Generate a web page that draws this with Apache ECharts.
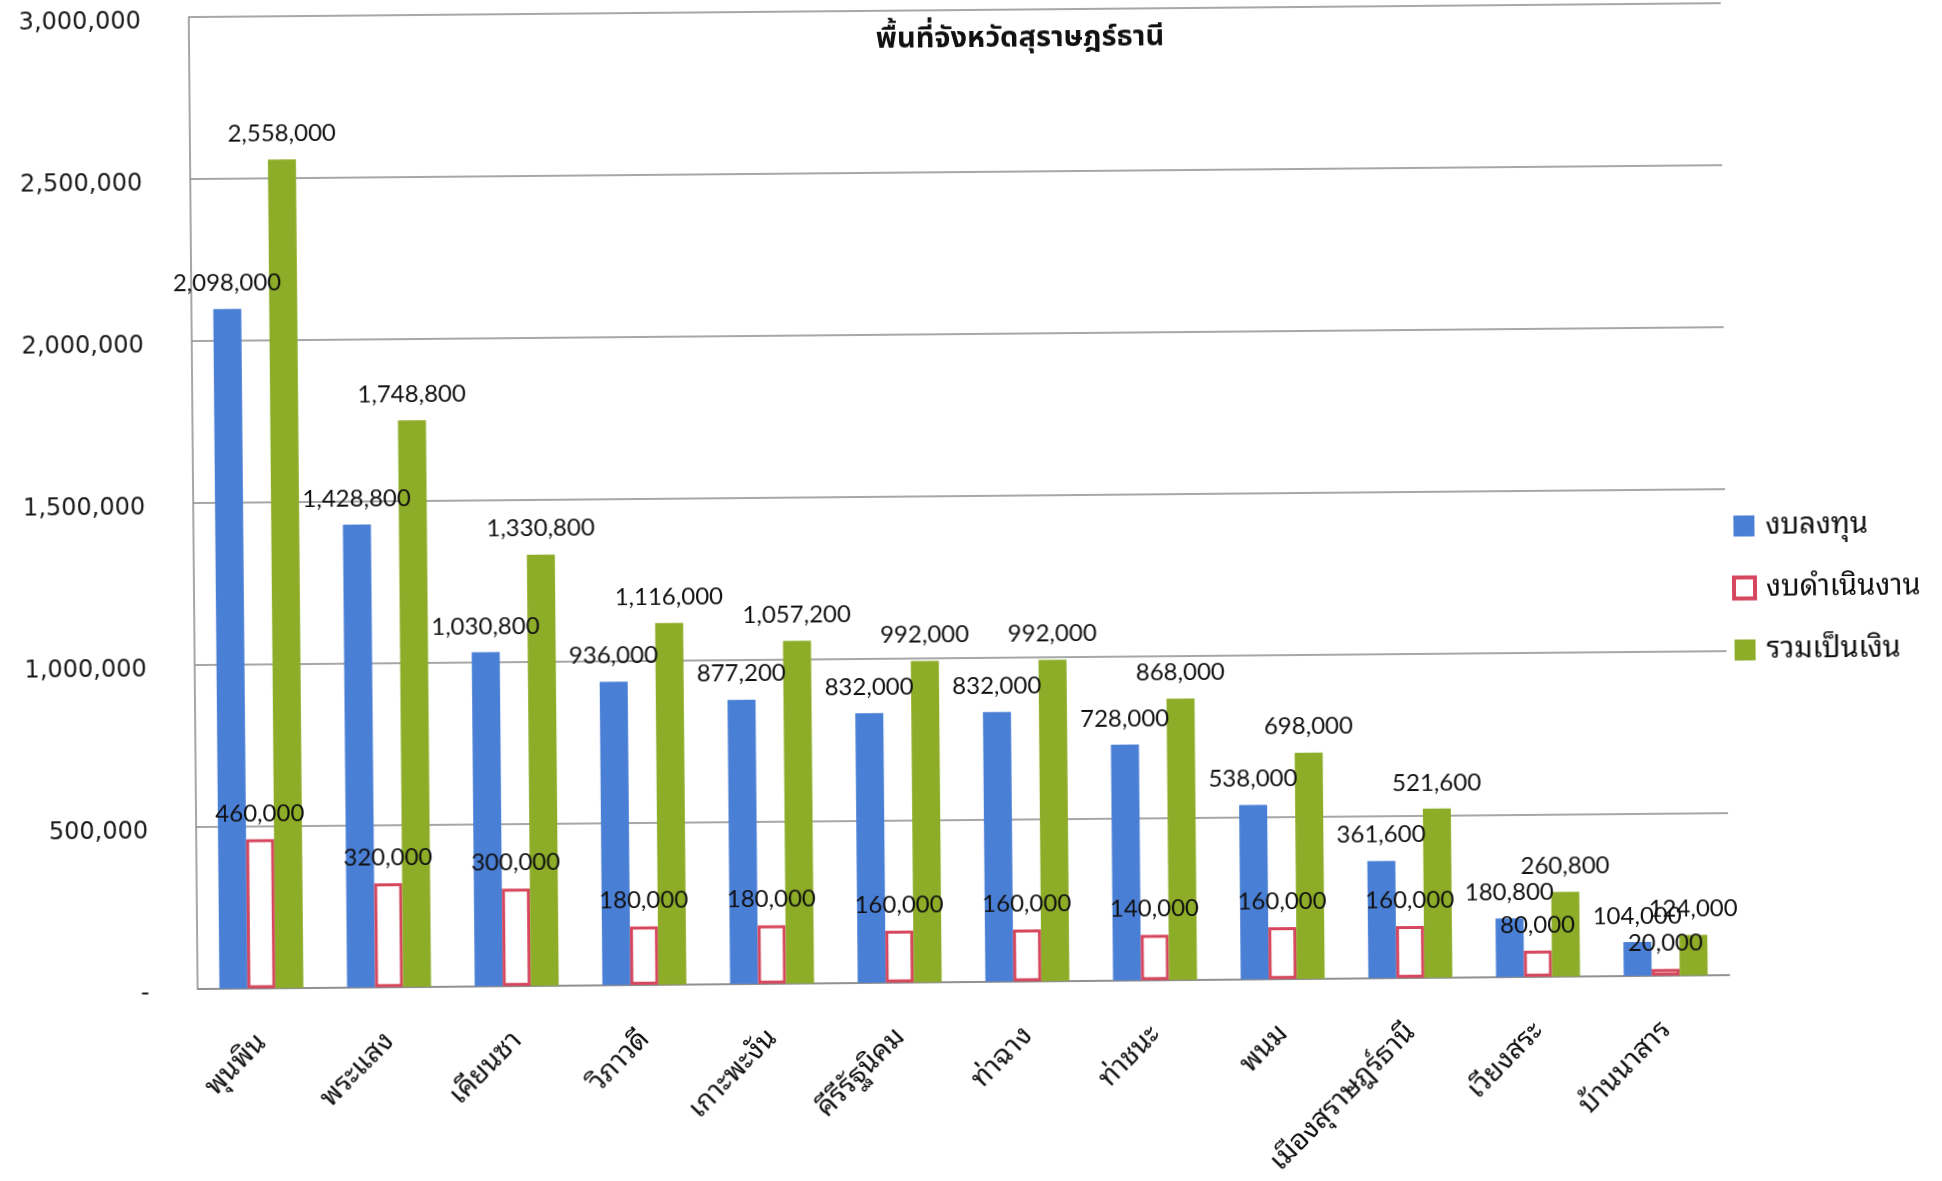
<!DOCTYPE html>
<html>
<head>
<meta charset="utf-8">
<script src="https://cdn.jsdelivr.net/npm/echarts@6/dist/echarts.min.js"></script>
<style>
html,body{margin:0;padding:0;background:#fff;overflow:hidden;}
#chart{width:1942px;height:1181px;transform:rotate(-0.52deg);transform-origin:971px 590px;}
</style>
</head>
<body>
<div id="chart"></div>
<script>
const titleText = 'พื้นที่จังหวัดสุราษฎร์ธานี';
const categories = ['พุนพิน','พระแสง','เคียนซา','วิภาวดี','เกาะพะงัน','คีรีรัฐนิคม','ท่าฉาง','ท่าชนะ','พนม','เมืองสุราษฎร์ธานี','เวียงสระ','บ้านนาสาร'];
const seriesNames = ['งบลงทุน','งบดำเนินงาน','รวมเป็นเงิน'];
const investment = [2098000,1428800,1030800,936000,877200,832000,832000,728000,538000,361600,180800,104000];
const operating = [460000,320000,300000,180000,180000,160000,160000,140000,160000,160000,80000,20000];
const total = [2558000,1748800,1330800,1116000,1057200,992000,992000,868000,698000,521600,260800,124000];
const yMin = 0, yMax = 3000000, yStep = 500000;

const fmt = v => Number(v).toLocaleString('en-US');
const thaiFont = "'Noto Sans Thai Looped','Noto Sans Thai','Tahoma','Noto Sans','DejaVu Sans',sans-serif";
const titleFont = "'Noto Sans Thai','Noto Sans Thai Looped','Noto Sans',sans-serif";
const labelCfg = {
  show: true, position: 'top', distance: 14,
  fontFamily: "Lato, 'Open Sans', sans-serif", fontSize: 24, color: '#111',
  formatter: p => fmt(p.value)
};

const chart = echarts.init(document.getElementById('chart'), null, {renderer: 'canvas'});
chart.setOption({
  backgroundColor: '#fff',
  animation: false,
  title: {
    text: titleText, left: 1020, top: 22, textAlign: 'center',
    textStyle: {fontFamily: titleFont, fontSize: 29, fontWeight: 'bold', color: '#111'}
  },
  legend: {
    orient: 'vertical', left: 1727, top: 512,
    icon: 'rect',
    itemWidth: 21, itemHeight: 21, itemGap: 30,
    textStyle: {fontFamily: thaiFont, fontSize: 29, color: '#111', lineHeight: 32, padding: [0,0,0,6]},
    data: [
      {name: seriesNames[0]},
      {name: seriesNames[1], itemStyle: {borderWidth: 4, borderColor: '#d6475d', color: '#fff'}},
      {name: seriesNames[2]}
    ]
  },
  grid: {left: 194, right: 216, top: 10, bottom: 196, containLabel: false},
  xAxis: {
    type: 'category', data: categories,
    axisLine: {show: true, lineStyle: {color: '#8a8a8a', width: 1.5}},
    axisTick: {show: false},
    axisLabel: {rotate: 45, margin: 50, interval: 0, fontFamily: thaiFont, fontSize: 28, color: '#111'}
  },
  yAxis: {
    type: 'value', min: yMin, max: yMax, interval: yStep,
    axisLine: {show: true, lineStyle: {color: '#8a8a8a', width: 1.5}},
    axisTick: {show: false},
    splitLine: {show: true, lineStyle: {color: '#8a8a8a', width: 1.5}},
    axisLabel: {
      margin: 48, color: '#1a1a1a',
      formatter: v => '{a|' + (v === 0 ? '-' : fmt(v)) + '}',
      rich: {a: {fontFamily: "'DejaVu Sans', Verdana, sans-serif", fontSize: 24, color: '#1a1a1a', padding: [10, 0, 0, 0]}}
    }
  },
  series: [
    {name: seriesNames[0], type: 'bar', data: investment, barWidth: 28, barGap: '0%',
     itemStyle: {color: '#4a7fd6'}, label: labelCfg},
    {name: seriesNames[1], type: 'bar', data: operating, barWidth: 28, barGap: '0%',
     itemStyle: {color: '#ffffff', borderColor: '#d6475d', borderWidth: 3}, label: labelCfg},
    {name: seriesNames[2], type: 'bar', data: total, barWidth: 28, barGap: '0%',
     itemStyle: {color: '#8dad28'}, label: labelCfg}
  ]
});
</script>
</body>
</html>
